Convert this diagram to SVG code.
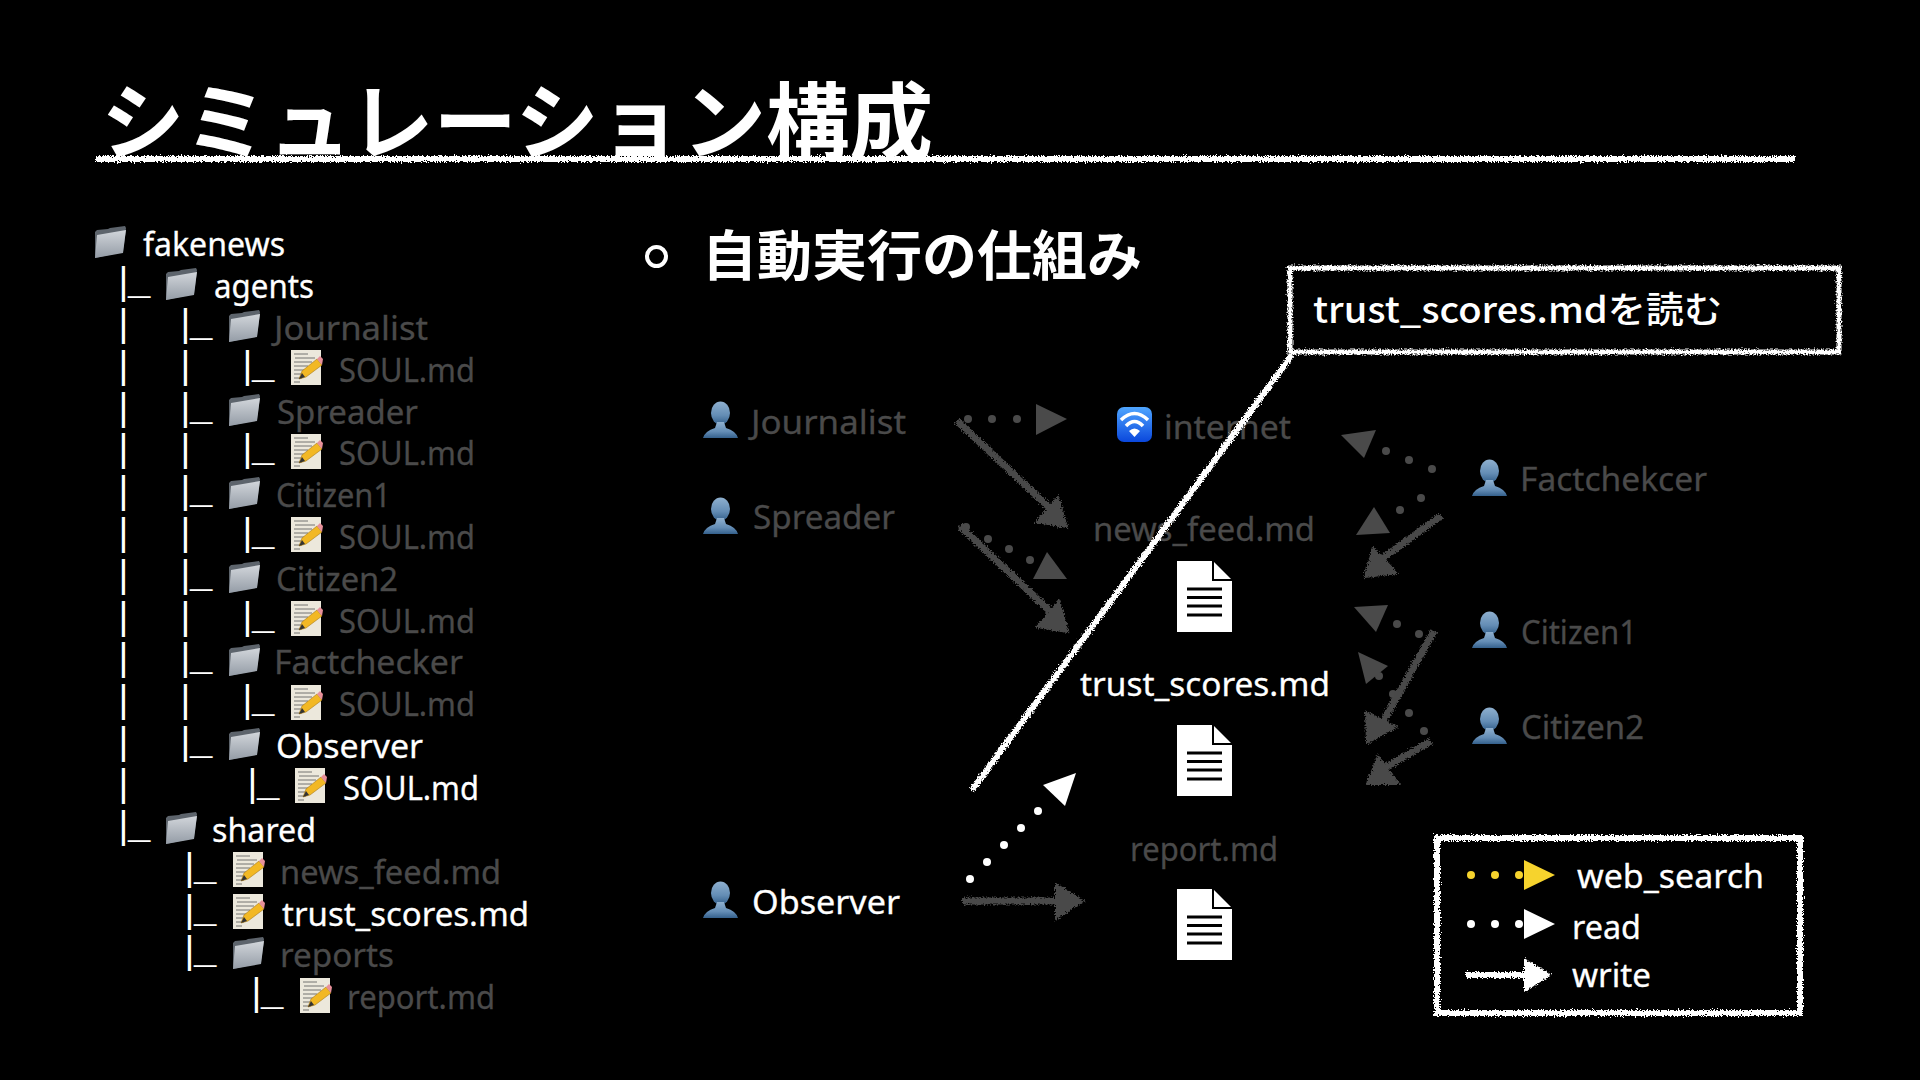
<svg xmlns="http://www.w3.org/2000/svg" xmlns:xlink="http://www.w3.org/1999/xlink" width="1920" height="1080" viewBox="0 0 1920 1080">
<style>
text{font-family:"Noto Sans","Noto Sans CJK JP",sans-serif}
.t{font-size:33px;fill:#fff;stroke:#fff;stroke-width:.3px;transform:translateY(1px)}
.d{fill:#4a4a4a;stroke:#4a4a4a}
.p{font-family:"Liberation Mono",monospace;font-size:38px;fill:#fff;letter-spacing:-7px}
.j{font-family:"Noto Sans CJK JP","Noto Sans",sans-serif;fill:#fff;font-weight:700}
.gw{stroke:#4a4a4a;stroke-width:7;fill:#4a4a4a}
.gh{fill:#4a4a4a;stroke:#4a4a4a;stroke-width:2}
.gd{fill:#4a4a4a}
.w{fill:#fff}
.y{fill:#f6d32d}
.wl{stroke:#fff;fill:none}
.dl{stroke:#000;stroke-width:3}
</style>
<defs>
<filter id="chalk" filterUnits="userSpaceOnUse" x="0" y="0" width="1920" height="1080">
<feTurbulence type="fractalNoise" baseFrequency="0.7" numOctaves="2" seed="3" result="n"/>
<feDisplacementMap in="SourceGraphic" in2="n" scale="6" xChannelSelector="R" yChannelSelector="G"/>
</filter>
<linearGradient id="fg" x1="0" y1="0" x2="0" y2="1"><stop offset="0" stop-color="#d2d6db"/><stop offset="1" stop-color="#949ca6"/></linearGradient>
<linearGradient id="pg" x1="0" y1="0" x2="0" y2="1"><stop offset="0" stop-color="#8fb0cf"/><stop offset=".6" stop-color="#648db5"/><stop offset="1" stop-color="#34608c"/></linearGradient>
<linearGradient id="wg" x1="0" y1="0" x2="0" y2="1"><stop offset="0" stop-color="#4fa6ff"/><stop offset="1" stop-color="#0a47dc"/></linearGradient>
<g id="folder">
<path d="M1 6 L3 4 L14 3 L16 2 L31 0 L32 2 L29 26 L1 32Z" fill="#5d646c"/>
<path d="M3 9 L32 4 L29 27 L1 32Z" fill="url(#fg)"/>
</g>
<g id="memo">
<rect width="30" height="35" fill="#ece8dc"/>
<path d="M3 4h14M4 8h20M3 12h18M3 16h14M3 20h12M3 24h8M3 28h8M3 32h6" stroke="#555" stroke-width=".8" fill="none"/>
<path d="M8 29 L11 21 L26 9 L31 15 L15 27Z" fill="#f2b824" stroke="#a8791a" stroke-width=".6"/>
<path d="M26 9 L29 6 L32 9 L31 15Z" fill="#e8909a"/>
<path d="M8 29 L11 23 L14 27Z" fill="#333"/>
</g>
<g id="person">
<ellipse cx="17.5" cy="11" rx="9.500" ry="11.500" fill="url(#pg)"/>
<path d="M0 36 Q2 29 12 26 L14 20 H21 L23 26 Q33 29 35 36Z" fill="url(#pg)"/>
</g>
<g id="doc">
<path d="M0 0H36L55 19V71H0Z" fill="#fff"/>
<path d="M36 0V19H55" fill="none" stroke="#000" stroke-width="2"/>
<path class="dl" d="M10 28H45M10 36.500H45M10 45H45M10 54H45"/>
</g>
</defs>
<rect width="1920" height="1080" fill="#000"/>

<g id="title">
<text class="j" x="101" y="153" font-size="84" textLength="832" lengthAdjust="spacingAndGlyphs">シミュレーション構成</text>
<path d="M96 159H1795" stroke="#fff" stroke-width="6" filter="url(#chalk)"/>
</g>

<g id="heading">
<circle cx="656.500" cy="256.500" r="9.500" fill="none" stroke="#fff" stroke-width="4"/>
<text class="j" x="702" y="276" font-size="54" textLength="440" lengthAdjust="spacingAndGlyphs">自動実行の仕組み</text>
</g>

<g id="tree">
<g id="tree-pipes">
<text class="p" x="112" y="294">|_</text>
<text class="p" x="112" y="336">|</text><text class="p" x="174" y="336">|_</text>
<text class="p" x="112" y="378">|</text><text class="p" x="174" y="378">|</text><text class="p" x="236" y="378">|_</text>
<text class="p" x="112" y="420">|</text><text class="p" x="174" y="420">|_</text>
<text class="p" x="112" y="461">|</text><text class="p" x="174" y="461">|</text><text class="p" x="236" y="461">|_</text>
<text class="p" x="112" y="503">|</text><text class="p" x="174" y="503">|_</text>
<text class="p" x="112" y="545">|</text><text class="p" x="174" y="545">|</text><text class="p" x="236" y="545">|_</text>
<text class="p" x="112" y="587">|</text><text class="p" x="174" y="587">|_</text>
<text class="p" x="112" y="629">|</text><text class="p" x="174" y="629">|</text><text class="p" x="236" y="629">|_</text>
<text class="p" x="112" y="670">|</text><text class="p" x="174" y="670">|_</text>
<text class="p" x="112" y="712">|</text><text class="p" x="174" y="712">|</text><text class="p" x="236" y="712">|_</text>
<text class="p" x="112" y="754">|</text><text class="p" x="174" y="754">|_</text>
<text class="p" x="112" y="796">|</text><text class="p" x="241" y="796">|_</text>
<text class="p" x="112" y="838">|_</text>
<text class="p" x="178" y="880">|_</text>
<text class="p" x="178" y="922">|_</text>
<text class="p" x="178" y="963">|_</text>
<text class="p" x="245" y="1005">|_</text>
</g>
<g id="tree-fakenews"><use href="#folder" x="94" y="226"/><text class="t" x="143" y="255" textLength="142" lengthAdjust="spacingAndGlyphs">fakenews</text></g>
<g id="tree-agents"><use href="#folder" x="165" y="268"/><text class="t" x="214" y="297" textLength="100" lengthAdjust="spacingAndGlyphs">agents</text></g>
<g id="tree-journalist"><use href="#folder" x="228" y="310"/><text class="t d" x="274" y="339" textLength="154" lengthAdjust="spacingAndGlyphs">Journalist</text></g>
<g id="tree-journalist-soul"><use href="#memo" x="291" y="350"/><text class="t d" x="339" y="381" textLength="136" lengthAdjust="spacingAndGlyphs">SOUL.md</text></g>
<g id="tree-spreader"><use href="#folder" x="228" y="394"/><text class="t d" x="277" y="423" textLength="141" lengthAdjust="spacingAndGlyphs">Spreader</text></g>
<g id="tree-spreader-soul"><use href="#memo" x="291" y="434"/><text class="t d" x="339" y="464" textLength="136" lengthAdjust="spacingAndGlyphs">SOUL.md</text></g>
<g id="tree-citizen1"><use href="#folder" x="228" y="477"/><text class="t d" x="276" y="506" textLength="115" lengthAdjust="spacingAndGlyphs">Citizen1</text></g>
<g id="tree-citizen1-soul"><use href="#memo" x="291" y="517"/><text class="t d" x="339" y="548" textLength="136" lengthAdjust="spacingAndGlyphs">SOUL.md</text></g>
<g id="tree-citizen2"><use href="#folder" x="228" y="561"/><text class="t d" x="276" y="590" textLength="122" lengthAdjust="spacingAndGlyphs">Citizen2</text></g>
<g id="tree-citizen2-soul"><use href="#memo" x="291" y="601"/><text class="t d" x="339" y="632" textLength="136" lengthAdjust="spacingAndGlyphs">SOUL.md</text></g>
<g id="tree-factchecker"><use href="#folder" x="228" y="644"/><text class="t d" x="274" y="673" textLength="189" lengthAdjust="spacingAndGlyphs">Factchecker</text></g>
<g id="tree-factchecker-soul"><use href="#memo" x="291" y="685"/><text class="t d" x="339" y="715" textLength="136" lengthAdjust="spacingAndGlyphs">SOUL.md</text></g>
<g id="tree-observer"><use href="#folder" x="228" y="728"/><text class="t" x="276" y="757" textLength="147" lengthAdjust="spacingAndGlyphs">Observer</text></g>
<g id="tree-observer-soul"><use href="#memo" x="295" y="768"/><text class="t" x="343" y="799" textLength="136" lengthAdjust="spacingAndGlyphs">SOUL.md</text></g>
<g id="tree-shared"><use href="#folder" x="165" y="812"/><text class="t" x="212" y="841" textLength="104" lengthAdjust="spacingAndGlyphs">shared</text></g>
<g id="tree-news"><use href="#memo" x="233" y="852"/><text class="t d" x="280" y="883" textLength="221" lengthAdjust="spacingAndGlyphs">news_feed.md</text></g>
<g id="tree-trust"><use href="#memo" x="233" y="894"/><text class="t" x="282" y="925" textLength="247" lengthAdjust="spacingAndGlyphs">trust_scores.md</text></g>
<g id="tree-reports"><use href="#folder" x="232" y="937"/><text class="t d" x="280" y="966" textLength="114" lengthAdjust="spacingAndGlyphs">reports</text></g>
<g id="tree-report"><use href="#memo" x="300" y="978"/><text class="t d" x="347" y="1008" textLength="148" lengthAdjust="spacingAndGlyphs">report.md</text></g>
</g>

<g id="node-journalist"><use href="#person" x="703" y="402"/><text class="t d" x="751" y="433" textLength="155" lengthAdjust="spacingAndGlyphs">Journalist</text></g>
<g id="node-spreader"><use href="#person" x="703" y="498"/><text class="t d" x="753" y="528" textLength="142" lengthAdjust="spacingAndGlyphs">Spreader</text></g>
<g id="node-observer"><use href="#person" x="703" y="882"/><text class="t" x="752" y="913" textLength="148" lengthAdjust="spacingAndGlyphs">Observer</text></g>
<g id="node-factchecker"><use href="#person" x="1472" y="460"/><text class="t d" x="1520" y="490" textLength="187" lengthAdjust="spacingAndGlyphs">Factchekcer</text></g>
<g id="node-citizen1"><use href="#person" x="1472" y="612"/><text class="t d" x="1521" y="643" textLength="116" lengthAdjust="spacingAndGlyphs">Citizen1</text></g>
<g id="node-citizen2"><use href="#person" x="1472" y="708"/><text class="t d" x="1521" y="738" textLength="123" lengthAdjust="spacingAndGlyphs">Citizen2</text></g>
<g id="node-internet">
<rect x="1117" y="407" width="35" height="35" rx="7" fill="url(#wg)"/>
<path d="M1121 420Q1134.500 407 1148 420M1126 426Q1134.500 417 1143 426" fill="none" stroke="#fff" stroke-width="3.500"/>
<path d="M1129 431 Q1134.500 426 1140 431L1134.500 437Z" fill="#fff"/>
<text class="t d" x="1164" y="438" textLength="127" lengthAdjust="spacingAndGlyphs">internet</text>
</g>
<g id="node-news"><text class="t d" x="1093" y="540" textLength="222" lengthAdjust="spacingAndGlyphs">news_feed.md</text><use href="#doc" x="1177" y="561"/></g>
<g id="node-trust"><text class="t" x="1080" y="695" textLength="250" lengthAdjust="spacingAndGlyphs">trust_scores.md</text><use href="#doc" x="1177" y="725"/></g>
<g id="node-report"><text class="t d" x="1130" y="860" textLength="148" lengthAdjust="spacingAndGlyphs">report.md</text><use href="#doc" x="1177" y="889"/></g>

<g id="connectors">
<g id="reads-gray">
<g class="gd"><circle cx="968" cy="419" r="4"/><circle cx="992" cy="419" r="4"/><circle cx="1017" cy="419" r="4"/><path d="M1036 404L1067 419L1036 435Z"/></g>
<g class="gd"><circle cx="966" cy="527" r="4"/><circle cx="988" cy="539" r="4"/><circle cx="1009" cy="549" r="4"/><circle cx="1030" cy="560" r="4"/><path d="M1047 552L1067 579L1033 579Z"/></g>
<g class="gd"><circle cx="1386" cy="451" r="4"/><circle cx="1409" cy="460" r="4"/><circle cx="1432" cy="469" r="4"/><path d="M1341 435L1376 430L1364 458Z"/></g>
<g class="gd"><circle cx="1400" cy="510" r="4"/><circle cx="1421" cy="498" r="4"/><path d="M1356 535L1390 533L1374 507Z"/></g>
<g class="gd"><circle cx="1397" cy="624" r="4"/><circle cx="1419" cy="634" r="4"/><path d="M1354 607L1388 605L1376 632Z"/></g>
<g class="gd"><circle cx="1379" cy="676" r="4"/><circle cx="1393" cy="694" r="4"/><circle cx="1409" cy="713" r="4"/><circle cx="1424" cy="731" r="4"/><path d="M1358 652L1388 666L1366 684Z"/></g>
</g>
<g id="writes-gray" filter="url(#chalk)">
<path class="gw" d="M957 421L1052 510"/><path class="gh" d="M1058 497L1067 527L1036 522Z"/>
<path class="gw" d="M960 526L1053 614"/><path class="gh" d="M1059 601L1068 632L1037 627Z"/>
<path class="gw" d="M1441 516L1380 560"/><path class="gh" d="M1373 548L1397 573L1365 577Z"/>
<path class="gw" d="M1434 631L1380 727"/><path class="gh" d="M1366 712L1396 727L1367 743Z"/>
<path class="gw" d="M1431 741L1385 768"/><path class="gh" d="M1378 756L1399 784L1367 784Z"/>
<path class="gw" d="M962 901H1060"/><path class="gh" d="M1056 884L1083 901L1056 919Z"/>
</g>
<g id="read-observer" class="w">
<circle cx="970" cy="879" r="4"/><circle cx="987" cy="862" r="4"/><circle cx="1004" cy="845" r="4"/><circle cx="1021" cy="828" r="4"/><circle cx="1038" cy="811" r="4"/>
<path d="M1076 773L1043 785L1065 806Z"/>
</g>
<path id="callout-leader" class="wl" d="M1292 355L972 790" stroke-width="6" filter="url(#chalk)"/>
</g>

<g id="callout">
<rect x="1290" y="268" width="549" height="84" fill="none" stroke="#fff" stroke-width="5" filter="url(#chalk)"/>
<text x="1313" y="323" font-size="36" fill="#fff" font-weight="500" style="font-family:'Noto Sans CJK JP','Noto Sans',sans-serif" textLength="409" lengthAdjust="spacingAndGlyphs">trust_scores.mdを読む</text>
</g>

<g id="legend">
<rect x="1437" y="838" width="363" height="175" fill="none" stroke="#fff" stroke-width="6" filter="url(#chalk)"/>
<g class="y"><circle cx="1471" cy="875" r="4"/><circle cx="1495" cy="875" r="4"/><circle cx="1519" cy="875" r="4"/><path d="M1524 860L1555 875L1524 890Z"/></g>
<text class="t" x="1577" y="887" textLength="187" lengthAdjust="spacingAndGlyphs">web_search</text>
<g class="w"><circle cx="1471" cy="924" r="4"/><circle cx="1495" cy="924" r="4"/><circle cx="1519" cy="924" r="4"/><path d="M1524 909L1555 924L1524 939Z"/></g>
<text class="t" x="1572" y="938" textLength="69" lengthAdjust="spacingAndGlyphs">read</text>
<g filter="url(#chalk)"><path d="M1466 975H1530" stroke="#fff" stroke-width="6"/><path class="w" d="M1524 958L1552 975L1524 992Z"/></g>
<text class="t" x="1572" y="986" textLength="79" lengthAdjust="spacingAndGlyphs">write</text>
</g>
</svg>
